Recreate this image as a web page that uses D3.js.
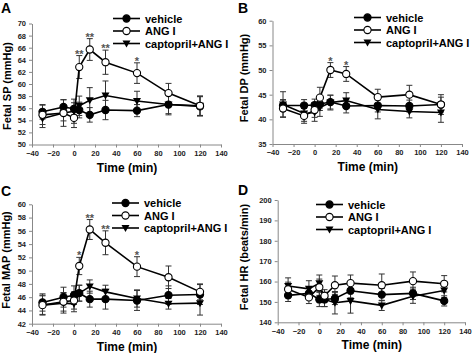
<!DOCTYPE html>
<html>
<head>
  <meta charset="utf-8" />
  <title>Fetal SP DP MAP HR</title>
  <style>
    body { margin: 0; background: #fff; }
    svg { display: block; font-family: "Liberation Sans", Arial, sans-serif; }
    .tick text { font-size: 7.5px; font-weight: bold; fill: #222; }
    .domain, .tick line { stroke: #888; }
  </style>
  <script src="https://cdnjs.cloudflare.com/ajax/libs/d3/7.8.5/d3.min.js"></script>
</head>
<body>
  <div id="chart"></div>
  <script>
    var times = [-30, -10, 0, 5, 15, 30, 60, 90, 120];
    var seriesNames = ['vehicle', 'ANG I', 'captopril+ANG I'];

    // panel A: fetal SP
    var vehicleSP = [55.4, 56.2, 55.9, 55.7, 54.9, 55.7, 55.6, 56.6, 56.3];
    var vehicleSPErr = [1.2, 1.2, 1.0, 1.3, 1.2, 1.6, 1.0, 1.5, 1.6];
    var angSP = [54.9, 55.2, 54.4, 62.8, 65.7, 63.6, 61.8, 58.5, 56.4];
    var angSPErr = [1.6, 1.3, 1.6, 1.9, 1.8, 2.0, 1.7, 1.6, 1.6];
    var captSP = [54.3, 55.2, 55.5, 56.4, 57.3, 58.1, 57.2, 56.6, 56.4];
    var captSPErr = [1.5, 2.2, 2.0, 1.6, 2.1, 2.4, 1.6, 1.7, 1.6];
    var starsSP = [[5, '**'], [15, '**'], [30, '**'], [60, '*']];

    // panel B: fetal DP
    var vehicleDP = [42.8, 42.8, 42.9, 43.1, 43.5, 42.7, 42.8, 42.7, 43.0];
    var vehicleDPErr = [1.2, 1.2, 1.2, 1.3, 1.4, 1.4, 1.3, 1.2, 1.5];
    var angDP = [42.2, 40.7, 41.9, 44.4, 50.0, 49.2, 44.5, 45.0, 43.0];
    var angDPErr = [1.7, 1.5, 1.5, 2.1, 1.5, 1.5, 1.6, 1.9, 2.0];
    var captDP = [43.0, 41.2, 41.4, 42.4, 43.4, 43.8, 42.0, 41.6, 41.4];
    var captDPErr = [2.6, 1.6, 1.8, 1.8, 1.5, 1.6, 1.9, 1.3, 2.0];
    var starsDP = [[15, '*'], [30, '*']];

    // panel C: fetal MAP
    var vehicleMAP = [45.2, 46.0, 46.3, 46.6, 45.7, 45.7, 45.5, 46.3, 46.4];
    var vehicleMAPErr = [1.3, 1.5, 1.4, 1.2, 1.2, 1.5, 1.5, 1.4, 1.5];
    var angMAP = [44.8, 45.3, 45.5, 50.7, 56.2, 54.2, 50.6, 49.0, 46.8];
    var angMAPErr = [1.5, 1.4, 1.3, 1.3, 1.5, 1.8, 1.5, 1.7, 1.2];
    var captMAP = [44.8, 45.1, 45.0, 46.6, 47.6, 46.8, 45.8, 45.0, 45.1];
    var captMAPErr = [1.4, 1.5, 1.2, 1.2, 1.0, 1.0, 1.3, 0.8, 1.8];
    var starsMAP = [[5, '*'], [15, '**'], [30, '**'], [60, '*']];

    // panel D: fetal HR
    var vehicleHR = [153.2, 154.2, 151.2, 151.2, 151.7, 155.5, 153.6, 154.2, 150.5];
    var vehicleHRErr = [3.0, 3.0, 3.5, 3.5, 3.0, 3.5, 3.0, 3.0, 2.5];
    var angHR = [156.2, 152.2, 157.2, 153.0, 158.2, 159.2, 158.2, 160.2, 158.9];
    var angHRErr = [3.5, 3.0, 4.0, 3.0, 4.5, 4.0, 5.5, 4.5, 4.0];
    var captHR = [157.8, 156.4, 159.2, 151.2, 149.6, 150.5, 148.3, 152.8, 155.6];
    var captHRErr = [4.0, 4.0, 4.0, 3.5, 5.5, 6.0, 2.5, 3.5, 3.5];
    var starsHR = [];

    var W = 475, H = 353;
    var svg = d3.select('#chart').append('svg')
      .attr('width', W)
      .attr('height', H);

    var symbols = [
      { fill: '#000', type: 'circle' },
      { fill: '#fff', type: 'circle' },
      { fill: '#000', type: 'tri' }
    ];

    function drawMarker(g, kind, x, y) {
      if (kind.type === 'circle') {
        g.append('circle')
          .attr('cx', x).attr('cy', y).attr('r', 3.6)
          .attr('fill', kind.fill)
          .attr('stroke', '#000').attr('stroke-width', 1.1);
      } else {
        g.append('path')
          .attr('d', 'M' + (x - 4) + ',' + (y - 3) + 'L' + (x + 4) + ',' + (y - 3) + 'L' + x + ',' + (y + 4) + 'Z')
          .attr('fill', '#000');
      }
    }

    function drawPanel(p) {
      var g = svg.append('g');
      var x = d3.scaleLinear().domain([-40, 140]).range([p.x0, p.x1]);
      var y = d3.scaleLinear().domain(p.yDomain).range([p.yBottom, p.yTop]);

      g.append('g')
        .attr('transform', 'translate(0,' + p.yBottom + ')')
        .call(d3.axisBottom(x).tickValues(d3.range(-40, 141, 20)).tickSize(3).tickPadding(3).tickSizeOuter(0));
      g.append('g')
        .attr('transform', 'translate(' + p.x0 + ',0)')
        .call(d3.axisLeft(y).tickValues(d3.range(p.yDomain[0], p.yDomain[1] + 0.01, p.yStep)).tickSize(3).tickPadding(3).tickSizeOuter(0));

      // error bars
      p.series.forEach(function (s, si) {
        s.vals.forEach(function (v, i) {
          var cx = x(times[i]);
          var lo = y(v - s.err[i]), hi = y(v + s.err[i]);
          g.append('path')
            .attr('d', 'M' + cx + ',' + lo + 'V' + hi + 'M' + (cx - 3) + ',' + lo + 'H' + (cx + 3) + 'M' + (cx - 3) + ',' + hi + 'H' + (cx + 3))
            .attr('stroke', '#333').attr('stroke-width', 1).attr('fill', 'none');
        });
      });

      var line = d3.line().x(function (d, i) { return x(times[i]); }).y(function (d) { return y(d); });
      p.series.forEach(function (s) {
        g.append('path').datum(s.vals)
          .attr('d', line)
          .attr('fill', 'none').attr('stroke', '#000').attr('stroke-width', 1.6);
      });
      [0, 2, 1].forEach(function (si) {
        p.series[si].vals.forEach(function (v, i) {
          drawMarker(g, symbols[si], x(times[i]), y(v));
        });
      });

      // significance marks over ANG I
      var ang = p.series[1];
      p.stars.forEach(function (st) {
        var i = times.indexOf(st[0]);
        g.append('text')
          .attr('x', x(st[0])).attr('y', y(ang.vals[i] + ang.err[i]) + 2)
          .attr('text-anchor', 'middle')
          .attr('font-size', 11).attr('font-weight', 'bold').attr('fill', '#555')
          .text(st[1]);
      });

      // legend
      seriesNames.forEach(function (name, k) {
        var ly = p.legendY + k * 12.5;
        g.append('line')
          .attr('x1', p.legendX).attr('x2', p.legendX + 27)
          .attr('y1', ly).attr('y2', ly)
          .attr('stroke', '#000').attr('stroke-width', 1.6);
        drawMarker(g, symbols[k], p.legendX + 13.5, ly);
        g.append('text')
          .attr('x', p.legendX + 32).attr('y', ly + 4)
          .attr('font-size', 11).attr('font-weight', 'bold')
          .text(name);
      });

      g.append('text')
        .attr('transform', 'translate(' + p.yTitleX + ',' + p.yTitleY + ') rotate(-90)')
        .attr('text-anchor', 'middle')
        .attr('font-size', 11).attr('font-weight', 'bold')
        .text(p.yTitle);
      g.append('text')
        .attr('x', (p.x0 + p.x1) / 2 + 0.5).attr('y', p.yBottom + 27)
        .attr('text-anchor', 'middle')
        .attr('font-size', 12).attr('font-weight', 'bold')
        .text('Time (min)');
      g.append('text')
        .attr('x', p.letterX).attr('y', p.letterY)
        .attr('font-size', 14).attr('font-weight', 'bold')
        .text(p.letter);
    }

    drawPanel({
      letter: 'A', letterX: 1, letterY: 13,
      x0: 32, x1: 221, yTop: 23.5, yBottom: 144.5,
      yDomain: [50, 70], yStep: 2, yTitle: 'Fetal SP (mmHg)', yTitleX: 11, yTitleY: 86,
      legendX: 113, legendY: 18.5,
      stars: starsSP,
      series: [
        { vals: vehicleSP, err: vehicleSPErr },
        { vals: angSP, err: angSPErr },
        { vals: captSP, err: captSPErr }
      ]
    });
    drawPanel({
      letter: 'B', letterX: 238, letterY: 13,
      x0: 272.5, x1: 462, yTop: 20.7, yBottom: 144,
      yDomain: [35, 60], yStep: 5, yTitle: 'Fetal DP (mmHg)', yTitleX: 248, yTitleY: 78,
      legendX: 354, legendY: 17.5,
      stars: starsDP,
      series: [
        { vals: vehicleDP, err: vehicleDPErr },
        { vals: angDP, err: angDPErr },
        { vals: captDP, err: captDPErr }
      ]
    });
    drawPanel({
      letter: 'C', letterX: 1, letterY: 196,
      x0: 32, x1: 221, yTop: 204.3, yBottom: 323.7,
      yDomain: [42, 60], yStep: 2, yTitle: 'Fetal MAP (mmHg)', yTitleX: 10, yTitleY: 260,
      legendX: 112, legendY: 203,
      stars: starsMAP,
      series: [
        { vals: vehicleMAP, err: vehicleMAPErr },
        { vals: angMAP, err: angMAPErr },
        { vals: captMAP, err: captMAPErr }
      ]
    });
    drawPanel({
      letter: 'D', letterX: 238, letterY: 195,
      x0: 277.7, x1: 465, yTop: 200, yBottom: 322.3,
      yDomain: [140, 200], yStep: 10, yTitle: 'Fetal HR (beats/min)', yTitleX: 248, yTitleY: 257,
      legendX: 316, legendY: 204.5,
      stars: starsHR,
      series: [
        { vals: vehicleHR, err: vehicleHRErr },
        { vals: angHR, err: angHRErr },
        { vals: captHR, err: captHRErr }
      ]
    });
  </script>
</body>
</html>
